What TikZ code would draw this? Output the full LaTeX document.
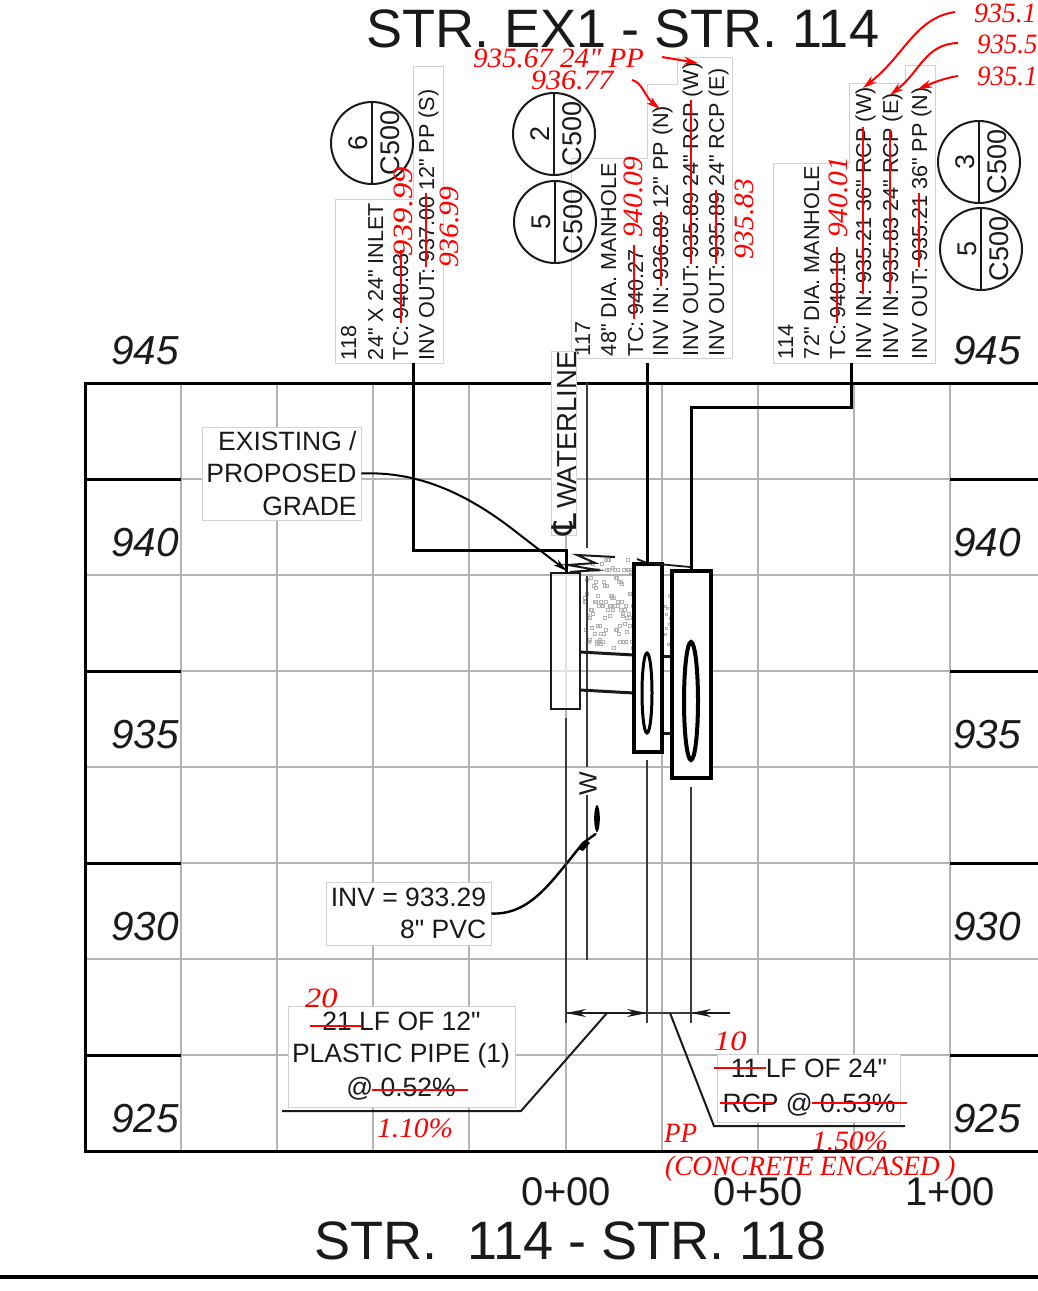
\documentclass[tikz,border=0pt]{standalone}
\usepackage{fontspec}
\setmainfont{Liberation Sans}[Ligatures=TeXOff]
\newfontfamily\redfont{Liberation Serif}
\newfontfamily\symfont{DejaVu Sans}
\usetikzlibrary{arrows.meta}
\definecolor{gridgrey}{HTML}{B4B4B4}
\definecolor{boxgrey}{HTML}{D2D2D2}
\definecolor{inkdark}{HTML}{1A1A1A}
\newcommand{\fsz}[1]{\fontsize{#1}{#1}\selectfont}
\newcommand{\sx}[2]{\scalebox{#1}[1]{#2}}
\newcommand{\remof}[2]{\the\numexpr(#1)-(#2)*((#1)/(#2))\relax}
\tikzset{
 gridline/.style={draw=gridgrey,line width=2.4pt},
 heavyline/.style={draw=black,line width=3pt},
 thinline/.style={draw=inkdark!85,line width=2pt},
 lead/.style={draw=black,line width=3pt},
 lab/.style={inner sep=0pt,outer sep=0pt,text=inkdark,anchor=base west},
 rt/.style={lab,rotate=90,font=\fsz{21.6}},
 redrt/.style={inner sep=0pt,anchor=base west,rotate=90,text=red,font=\redfont\itshape\fsz{28}},
 redt/.style={inner sep=0pt,anchor=base west,text=red,font=\redfont\itshape\fsz{28}},
 strike/.style={draw=red,line width=2pt},
 redarrow/.style={draw=red,line width=2pt,-{Stealth[length=14pt,width=8pt]}},
 notebox/.style={draw=boxgrey,line width=0.8pt,fill=white},
 callout/.style={notebox,inner sep=0pt,text=inkdark,font=\fontsize{26.5}{32.5}\selectfont},
 axisnum/.style={lab,font=\itshape\fsz{40.5}},
 station/.style={lab,font=\fsz{40}},
 title/.style={lab,font=\fsz{54.1}},
 sheet/.style={draw=inkdark,line width=2pt},
 sheettext/.style={inner sep=0pt,text=inkdark,rotate=90,font=\fsz{27}},
 dimarrow/.style={draw=inkdark,line width=2pt,-{Stealth[length=20pt,width=8pt]}},
 wsym/.style={inner sep=0pt,text=inkdark,rotate=90,font=\fsz{25}},
 pipebox/.style={draw=black,line width=3.6pt,fill=white},
}
\begin{document}
\begin{tikzpicture}[x=1pt,y=-1pt]
\useasboundingbox (0,0) rectangle (1038,1291);
% grid
\foreach \yy in {479,575,671,767,863,959,1055}{\draw[gridline] (181,\yy) -- (950,\yy);}
\foreach \xx in {181,277,373,469,566,662,758,854,950}{\draw[gridline] (\xx,383) -- (\xx,1151);}
\foreach \yy in {575,767,959}{\draw[gridline] (85,\yy) -- (181,\yy);\draw[gridline] (950,\yy) -- (1038,\yy);}
\foreach \yy in {479,671,863,1055}{\draw[heavyline] (85,\yy) -- (181,\yy);\draw[heavyline] (950,\yy) -- (1038,\yy);}
\draw[heavyline] (1038,383) -- (85,383) -- (85,1151) -- (1038,1151);
% titles
\node[title] (ttop) at (366,47) {STR. EX1 - STR. 114};
\node[title] (tbot) at (314,1259) {STR.\ \ 114 - STR. 118};
\draw[draw=black,line width=4pt] (0,1277) -- (1038,1277);
% axis numbers
\foreach \v/\b in {945/364,940/556,935/748,930/940,925/1132}{
  \node[axisnum] (l\v) at (111,\b) {\v};
  \node[axisnum] (r\v) at (953,\b) {\v};
}
\node[station] (s0) at (521,1205) {0+00};
\node[station] (s50) at (713,1205) {0+50};
\node[station] (s100) at (905,1205) {1+00};
% stipple
\foreach \i in {1,...,105}{
  \edef\stx{\the\numexpr 607+\remof{\i*\i*7+\i*31}{49}\relax}
  \edef\sty{\the\numexpr 604+\remof{\i*\i*\i*3+\i*53}{92}\relax}
  \draw[draw=gridgrey,line width=0.8pt] (\stx,\sty) rectangle +(3,3);
}
\foreach \i in {1,...,12}{
  \edef\stx{\the\numexpr 667+\remof{\i*5}{7}\relax}
  \edef\sty{\the\numexpr 615+\remof{\i*\i*7+\i*5}{70}\relax}
  \draw[draw=gridgrey,line width=0.8pt] (\stx,\sty) rectangle +(2.5,2.5);
}
% note boxes behind sheets
\draw[notebox] (335,363) -- (335,199) -- (413,199) -- (413,66) -- (443,66) -- (443,363) -- cycle;
\draw[notebox] (571,358) -- (571,158) -- (647,158) -- (647,84) -- (677,84) -- (677,57) -- (732,57) -- (732,358) -- cycle;
\draw[notebox] (773,363) -- (773,163) -- (849,163) -- (849,83) -- (905,83) -- (905,65) -- (935,65) -- (935,363) -- cycle;
% sheet circles
\foreach \n/\cx/\cy/\t in {c6/372/143/6,c2/554/134/2,c5a/555/222/5,c3/979/162/3,c5b/981/249/5}{
  \draw[sheet] (\cx,\cy) circle (41);
  \draw[sheet] (\cx,\cy-41) -- (\cx,\cy+41);
  \node[sheettext,anchor=base] (\n n) at (\cx-5,\cy) {\t};
  \node[sheettext,anchor=base] (\n s) at (\cx+27,\cy) {C500};
}
% structure text
\node[rt] (a1) at (356,360) {118};
\node[rt] (a2) at (383,360) {24" X 24" INLET};
\node[rt] (a3) at (408,360) {TC: 940.03};
\node[rt] (a4) at (434,360) {INV OUT: 937.00 12" PP (S)};
\node[rt] (b1) at (590,356) {117};
\node[rt] (b2) at (616,356) {48" DIA. MANHOLE};
\node[rt] (b3) at (643,356) {TC: 940.27};
\node[rt] (b4) at (668,356) {INV IN: 936.89 12" PP (N)};
\node[rt] (b5) at (698,356) {INV OUT: 935.89 24" RCP (W)};
\node[rt] (b6) at (724,356) {INV OUT: 935.89 24" RCP (E)};
\node[rt] (d1) at (793,359) {114};
\node[rt] (d2) at (819,359) {72" DIA. MANHOLE};
\node[rt] (d3) at (845,359) {TC: 940.10};
\node[rt] (d4) at (871,359) {INV IN: 935.21 36" RCP (W)};
\node[rt] (d5) at (898,359) {INV IN: 935.83 24" RCP (E)};
\node[rt] (d6) at (927,359) {INV OUT: 935.21 36" PP (N)};
% strike-outs
\foreach \xx/\ya/\yb in {401/323/250,426/267/193,634/319/245,661/286/212,691/264/100,716/264/190,837/323/247,863/294/127,890/294/129,919/267/193}{
  \draw[strike] (\xx,\ya) -- (\xx,\yb);
}
% red values
\node[redrt] (v1) at (412,257) {\sx{1.17}{939.99}};
\node[redrt] (v2) at (458,268) {\sx{1.054}{936.99}};
\node[redrt] (v3) at (642,238) {\sx{1.054}{940.09}};
\node[redrt] (v4) at (753,260) {\sx{1.054}{935.83}};
\node[redrt] (v5) at (847,238) {\sx{1.054}{940.01}};
\node[redt] (v6) at (473,67) {\sx{1.035}{935.67 24" PP}};
\node[redt] (v7) at (531,89) {\sx{1.068}{936.77}};
\node[redt] (v8) at (974,22) {\sx{0.99}{935.1}};
\node[redt] (v9) at (977,53) {\sx{0.955}{935.5}};
\node[redt] (v10) at (977,85) {\sx{0.955}{935.1}};
% red arrows
\coordinate (q1) at (662,57);\coordinate (q1e) at (698,63);
\coordinate (q2) at (632,80);\coordinate (q2e) at (660,109);
\coordinate (q3) at (955,12);\coordinate (q3e) at (863,88);
\coordinate (q4) at (958,43);\coordinate (q4e) at (890,95);
\coordinate (q5) at (958,76);\coordinate (q5e) at (918,89);
\draw[redarrow] (q1) -- (q1e);
\draw[redarrow] (q2) .. controls (642,82) and (645,97) .. (q2e);
\draw[redarrow] (q3) .. controls (915,18) and (905,55) .. (q3e);
\draw[redarrow] (q4) .. controls (925,44) and (920,72) .. (q4e);
\draw[redarrow] (q5) .. controls (945,78) and (935,82) .. (q5e);
% waterline
\draw[thinline] (587,383) -- (587,548);
\draw[thinline] (587,576) -- (587,767);
\draw[thinline] (587,795) -- (587,960);
\node[inner sep=0pt,fill=white,draw=boxgrey,line width=0.6pt,rotate=90,minimum width=183,minimum height=20,text=inkdark] (wl) at (564,443.5) {\fsz{27.5}{\symfont\fsz{34}℄}\,WATERLINE};
\node[wsym] (w2) at (588,784) {W};
\draw[draw=inkdark,line width=2pt] (615,557) -- (577,555) -- (595,563) -- (568,565) -- (597,570) -- (570,572);
% structures
\draw[draw=inkdark,line width=2pt,fill=white,fill opacity=0.6] (551,573) rectangle (580,709);
\draw[draw=inkdark,line width=3pt] (580,652) -- (634,655);
\draw[draw=inkdark,line width=3pt] (580,690) -- (634,693);
\draw[draw=inkdark,line width=3pt] (662,656) -- (672,656);
\draw[draw=inkdark,line width=3pt] (662,733) -- (672,733);
\draw[pipebox] (634,564) rectangle (662,752);
\draw[pipebox] (672,571) rectangle (711,778);
\draw[draw=black,line width=3pt] (647,693) ellipse (5 and 40);
\draw[draw=black,line width=4pt] (691,701) ellipse (7 and 59);
\draw[draw=inkdark,line width=1.8pt] (637,559) -- (647,563) -- (690,567);
\fill[black] (597,818.5) ellipse (2.8 and 13.5);
% leaders to structures
\coordinate (f1) at (413,363);\coordinate (f1e) at (566,573);
\coordinate (f2) at (647,363);\coordinate (f2e) at (647,564);
\coordinate (f3) at (851,363);\coordinate (f3e) at (691,571);
\draw[lead] (f1) |- (566,550) -- (f1e);
\draw[lead] (f2) -- (f2e);
\draw[lead] (f3) -- (851,407) -| (f3e);
% callouts
\node[callout,align=right,minimum width=159,minimum height=93] (grade) at (281.5,473.5) {EXISTING /\\PROPOSED\\GRADE};
\coordinate (gradee) at (567,571);
\draw[draw=black,line width=2pt,-{Stealth[length=14pt,width=7pt]}] (grade.east) .. controls (420,471) and (470,495) .. (520,535) -- (gradee);
\node[callout,align=right,minimum width=165,minimum height=63] (inv) at (408.5,913.5) {INV = 933.29\\8" PVC};
\coordinate (inve) at (597,833);
\draw[draw=black,line width=2.4pt,-{Stealth[length=3pt,width=2pt]}] (inv.east) .. controls (525,915) and (545,890) .. (567,863) -- (583,843) -- (inve);
\fill[black] (586,840) -- (578,849) -- (583,851) -- (590,843) -- cycle;
% lower vertical lines
\coordinate (e1) at (566,718);\coordinate (e1e) at (566,1023);
\coordinate (e2) at (647,760);\coordinate (e2e) at (647,1023);
\coordinate (e3) at (691,787);\coordinate (e3e) at (691,1023);
\draw[thinline] (e1) -- (e1e);
\draw[thinline] (e2) -- (e2e);
\draw[thinline] (e3) -- (e3e);
% dimension
\coordinate (m1) at (566,1013);\coordinate (m2) at (647,1013);\coordinate (m3) at (691,1013);\coordinate (m4) at (730,1013);\coordinate (m5) at (607,1013);\coordinate (m6) at (670,1013);
\draw[thinline] (m1) -- (m4);
\draw[dimarrow] (m5) -- (m1);
\draw[dimarrow] (m5) -- (m2);
\draw[dimarrow] (m4) -- (m3);
% pipe notes
\node[callout,minimum width=227,minimum height=101] (n1) at (401.5,1056.5) {};
\node[lab,font=\fsz{26.5},anchor=base] (n1a) at (401.5,1030) {21 LF OF 12"};
\node[lab,font=\fsz{26.5},anchor=base] (n1b) at (401,1062) {PLASTIC PIPE (1)};
\node[lab,font=\fsz{26.5},anchor=base] (n1c) at (401,1096) {@ 0.52\%};
\node[callout,minimum width=183,minimum height=68] (n2) at (808.5,1088) {};
\node[lab,font=\fsz{26.5},anchor=base] (n2a) at (809,1077) {11 LF OF 24"};
\node[lab,font=\fsz{26.5},anchor=base] (n2b) at (809,1112) {RCP @ 0.53\%};
\draw[draw=inkdark,line width=2pt] (m5) -- (521,1111) -- (282,1111);
\draw[draw=inkdark,line width=2pt] (m6) -- (714,1126) -- (905,1126);
\foreach \xa/\ya/\xb in {310/1026/362,372/1090/468,714/1068/766,720/1103/773,812/1103/907}{
  \draw[strike] (\xa,\ya) -- (\xb,\ya);
}
\node[redt] (x1) at (305,1007) {\sx{1.16}{20}};
\node[redt] (x2) at (714,1050) {\sx{1.16}{10}};
\node[redt] (x3) at (377,1137) {\sx{1.05}{1.10\%}};
\node[redt] (x4) at (812,1150) {\sx{1.05}{1.50\%}};
\node[redt] (x5) at (664,1142) {\sx{0.966}{PP}};
\node[redt] (x6) at (665,1175) {\sx{0.972}{(CONCRETE ENCASED )}};
\end{tikzpicture}
\end{document}
